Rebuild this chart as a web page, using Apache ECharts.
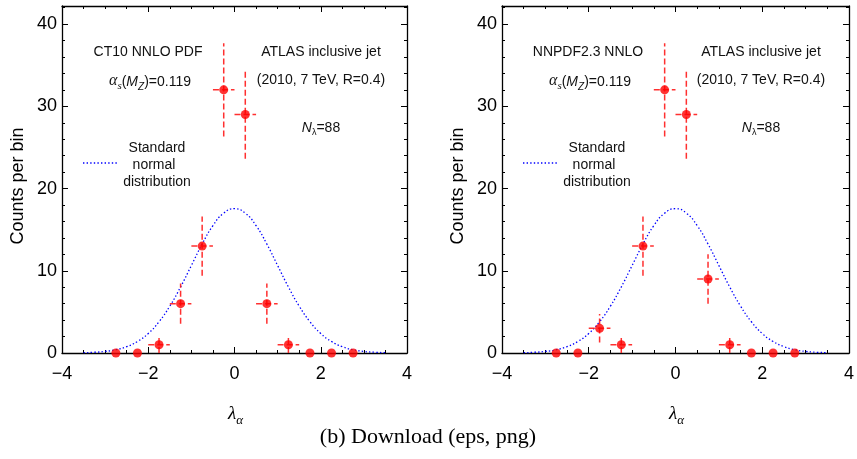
<!DOCTYPE html>
<html>
<head>
<meta charset="utf-8">
<script src="https://cdn.jsdelivr.net/npm/echarts@6/dist/echarts.min.js"></script>
<style>
html,body{margin:0;padding:0;background:#fff;}
#chart{width:857px;height:459px;}
</style>
</head>
<body>
<div id="chart"></div>
<script>
// ---- data ----
const binCenters = [-2.75, -2.25, -1.75, -1.25, -0.75, -0.25, 0.25, 0.75, 1.25, 1.75, 2.25, 2.75];
const binHalfWidth = 0.25;
const countsCT10 = [0, 0, 1, 6, 13, 32, 29, 6, 1, 0, 0, 0];
const errorsCT10 = [0, 0, 1, 2.45, 3.6, 5.66, 5.39, 2.45, 1, 0, 0, 0];
const countsNNPDF = [0, 0, 3, 1, 13, 32, 29, 9, 1, 0, 0, 0];
const errorsNNPDF = [0, 0, 1.73, 1, 3.6, 5.66, 5.39, 3, 1, 0, 0, 0];
const curveX = [-3.5, -3.25, -3, -2.75, -2.5, -2.25, -2, -1.75, -1.5, -1.25, -1, -0.75, -0.5, -0.25, 0,
                0.25, 0.5, 0.75, 1, 1.25, 1.5, 1.75, 2, 2.25, 2.5, 2.75, 3, 3.25, 3.5];
const curveY = [0.04, 0.09, 0.19, 0.40, 0.77, 1.40, 2.37, 3.80, 5.70, 8.03, 10.64, 13.25, 15.49, 17.01, 17.55,
                17.01, 15.49, 13.25, 10.64, 8.03, 5.70, 3.80, 2.37, 1.40, 0.77, 0.40, 0.19, 0.09, 0.04];
const xTicks = [-4, -2, 0, 2, 4];
const yTicks = [0, 10, 20, 30, 40];
const panelTitles = ['CT10 NNLO PDF', 'NNPDF2.3 NNLO'];

// ---- layout ----
const grids = [
  {left: 62, top: 6, width: 345, height: 347},
  {left: 502, top: 6, width: 347, height: 347}
];
const yMax = 42.2;
const sans = 'Liberation Sans, Arial, Helvetica, sans-serif';
const serif = 'Liberation Serif, DejaVu Serif, serif';
const fmtNum = v => String(v).replace('-', '\u2212');

const xAxes = [], yAxes = [], series = [], graphics = [];
const panels = [
  {counts: countsCT10, errs: errorsCT10},
  {counts: countsNNPDF, errs: errorsNNPDF}
];

grids.forEach((g, gi) => {
  ['bottom', 'top'].forEach(pos => {
    xAxes.push({
      type: 'value', gridIndex: gi, position: pos, min: xTicks[0], max: xTicks[xTicks.length - 1],
      interval: xTicks[1] - xTicks[0],
      axisLine: {show: true, onZero: false, lineStyle: {color: '#000', width: 1.3}},
      axisTick: {show: true, inside: true, length: 6, lineStyle: {color: '#000', width: 1}},
      minorTick: {show: true, splitNumber: 4, length: 3, lineStyle: {color: '#000', width: 1}},
      splitLine: {show: false}, minorSplitLine: {show: false},
      axisLabel: {show: pos === 'bottom', formatter: fmtNum, fontSize: 18, color: '#000', fontFamily: sans, margin: 12}
    });
  });
  ['left', 'right'].forEach(pos => {
    // major
    yAxes.push({
      type: 'value', gridIndex: gi, position: pos, min: yTicks[0], max: yMax,
      interval: yTicks[1] - yTicks[0],
      axisLine: {show: true, onZero: false, lineStyle: {color: '#000', width: 1.3}},
      axisTick: {show: true, inside: true, length: 6, lineStyle: {color: '#000', width: 1}},
      splitLine: {show: false},
      axisLabel: {show: pos === 'left', showMaxLabel: false,
        formatter: v => (yTicks.indexOf(v) >= 0 ? fmtNum(v) : ''),
        fontSize: 18, color: '#000', fontFamily: sans, margin: 5}
    });
    // minor
    yAxes.push({
      type: 'value', gridIndex: gi, position: pos, min: yTicks[0], max: yMax,
      interval: 2,
      axisLine: {show: false, onZero: false},
      axisTick: {show: true, inside: true, length: 3, lineStyle: {color: '#000', width: 1}},
      splitLine: {show: false},
      axisLabel: {show: false}
    });
  });

  const xi = gi * 2, yi = gi * 4;
  const p = panels[gi];

  series.push({
    type: 'line', xAxisIndex: xi, yAxisIndex: yi, smooth: true, symbol: 'none',
    lineStyle: {color: '#0000ff', width: 1.3, type: [1.4, 2.2]},
    data: curveX.map((x, i) => [x, curveY[i]]), z: 3
  });
  series.push({
    type: 'custom', xAxisIndex: xi, yAxisIndex: yi, z: 4,
    data: binCenters.map((x, i) => [x, p.counts[i], p.errs[i]]),
    renderItem: function (params, api) {
      const x = api.value(0), y = api.value(1), e = api.value(2);
      const children = [];
      const st = {stroke: '#ff1a1a', lineWidth: 1.5, lineDash: [6, 3], opacity: 0.9};
      if (e > 0) {
        const a = api.coord([x, y - e]), b = api.coord([x, y + e]);
        children.push({type: 'line', shape: {x1: a[0], y1: a[1], x2: b[0], y2: b[1]}, style: st});
      }
      if (y > 0) {
        const c = api.coord([x - binHalfWidth, y]), d = api.coord([x + binHalfWidth, y]);
        children.push({type: 'line', shape: {x1: c[0], y1: c[1], x2: d[0], y2: d[1]}, style: st});
      }
      return {type: 'group', children: children};
    }
  });
  series.push({
    type: 'scatter', xAxisIndex: xi, yAxisIndex: yi, symbol: 'circle', symbolSize: 9,
    itemStyle: {color: '#ff0000'}, z: 5,
    data: binCenters.map((x, i) => [x, p.counts[i]])
  });

  // annotations
  const L = g.left;
  const tstyle = (text, x, y, extra) => ({
    type: 'text', x: x, y: y, z: 10,
    style: Object.assign({text: text, fill: '#111', font: '14px ' + sans, textAlign: 'center', textVerticalAlign: 'middle'}, extra || {})
  });
  graphics.push(tstyle(panelTitles[gi], L + 86, 52));
  graphics.push({
    type: 'text', x: L + 88, y: 80, z: 10,
    style: {
      text: '{a|α}{s|s}{n|(}{m|M}{z|Z}{n|)=0.119}',
      textAlign: 'center', textVerticalAlign: 'middle', fill: '#111',
      rich: {
        a: {fontFamily: serif, fontStyle: 'italic', fontSize: 16, lineHeight: 18, verticalAlign: 'bottom'},
        s: {fontFamily: serif, fontStyle: 'italic', fontSize: 11, lineHeight: 12, verticalAlign: 'bottom', padding: [0, 0, -3, 0]},
        n: {fontFamily: sans, fontSize: 14, lineHeight: 18, verticalAlign: 'bottom'},
        m: {fontFamily: sans, fontStyle: 'italic', fontSize: 14, lineHeight: 18, verticalAlign: 'bottom'},
        z: {fontFamily: sans, fontStyle: 'italic', fontSize: 10, lineHeight: 12, verticalAlign: 'bottom', padding: [0, 0, -3, 0]}
      }
    }
  });
  graphics.push(tstyle('ATLAS inclusive jet', L + 259, 52));
  graphics.push(tstyle('(2010, 7 TeV, R=0.4)', L + 259, 80));
  graphics.push({
    type: 'text', x: L + 259, y: 126, z: 10,
    style: {
      text: '{m|N}{l|λ}{n|=88}',
      textAlign: 'center', textVerticalAlign: 'middle', fill: '#111',
      rich: {
        m: {fontFamily: sans, fontStyle: 'italic', fontSize: 14, lineHeight: 18, verticalAlign: 'bottom'},
        l: {fontFamily: sans, fontSize: 9, lineHeight: 12, verticalAlign: 'bottom', padding: [0, 0, -2, 0]},
        n: {fontFamily: sans, fontSize: 14, lineHeight: 18, verticalAlign: 'bottom'}
      }
    }
  });
  graphics.push(tstyle('Standard', L + 95, 148));
  graphics.push(tstyle('normal', L + 92, 165));
  graphics.push(tstyle('distribution', L + 95, 182));
  graphics.push({
    type: 'line', z: 10,
    shape: {x1: L + 21, y1: 163, x2: L + 55, y2: 163},
    style: {stroke: '#0000ff', lineWidth: 1.3, lineDash: [1.4, 2.2]}
  });
  // axis titles
  graphics.push({
    type: 'text', x: L - 44, y: 186, rotation: Math.PI / 2, z: 10,
    style: {text: 'Counts per bin', fill: '#000', font: '18px ' + sans, textAlign: 'center', textVerticalAlign: 'middle'}
  });
  graphics.push({
    type: 'text', x: L + g.width / 2 + 1, y: 412, z: 10,
    style: {
      text: '{l|λ}{a|α}', textAlign: 'center', textVerticalAlign: 'middle', fill: '#000',
      rich: {
        l: {fontFamily: serif, fontStyle: 'italic', fontSize: 19, lineHeight: 22, verticalAlign: 'bottom'},
        a: {fontFamily: serif, fontStyle: 'italic', fontSize: 13, lineHeight: 14, verticalAlign: 'bottom', padding: [0, 0, -4, 0]}
      }
    }
  });
});

graphics.push({
  type: 'text', x: 428, y: 437, z: 10,
  style: {text: '(b) Download (eps, png)', fill: '#000', font: '22px ' + serif, textAlign: 'center', textVerticalAlign: 'middle'}
});

const chart = echarts.init(document.getElementById('chart'), null, {renderer: 'canvas'});
chart.setOption({
  animation: false,
  backgroundColor: '#fff',
  grid: grids.map(g => Object.assign({containLabel: false}, g)),
  xAxis: xAxes,
  yAxis: yAxes,
  series: series,
  graphic: graphics
});
</script>
</body>
</html>
